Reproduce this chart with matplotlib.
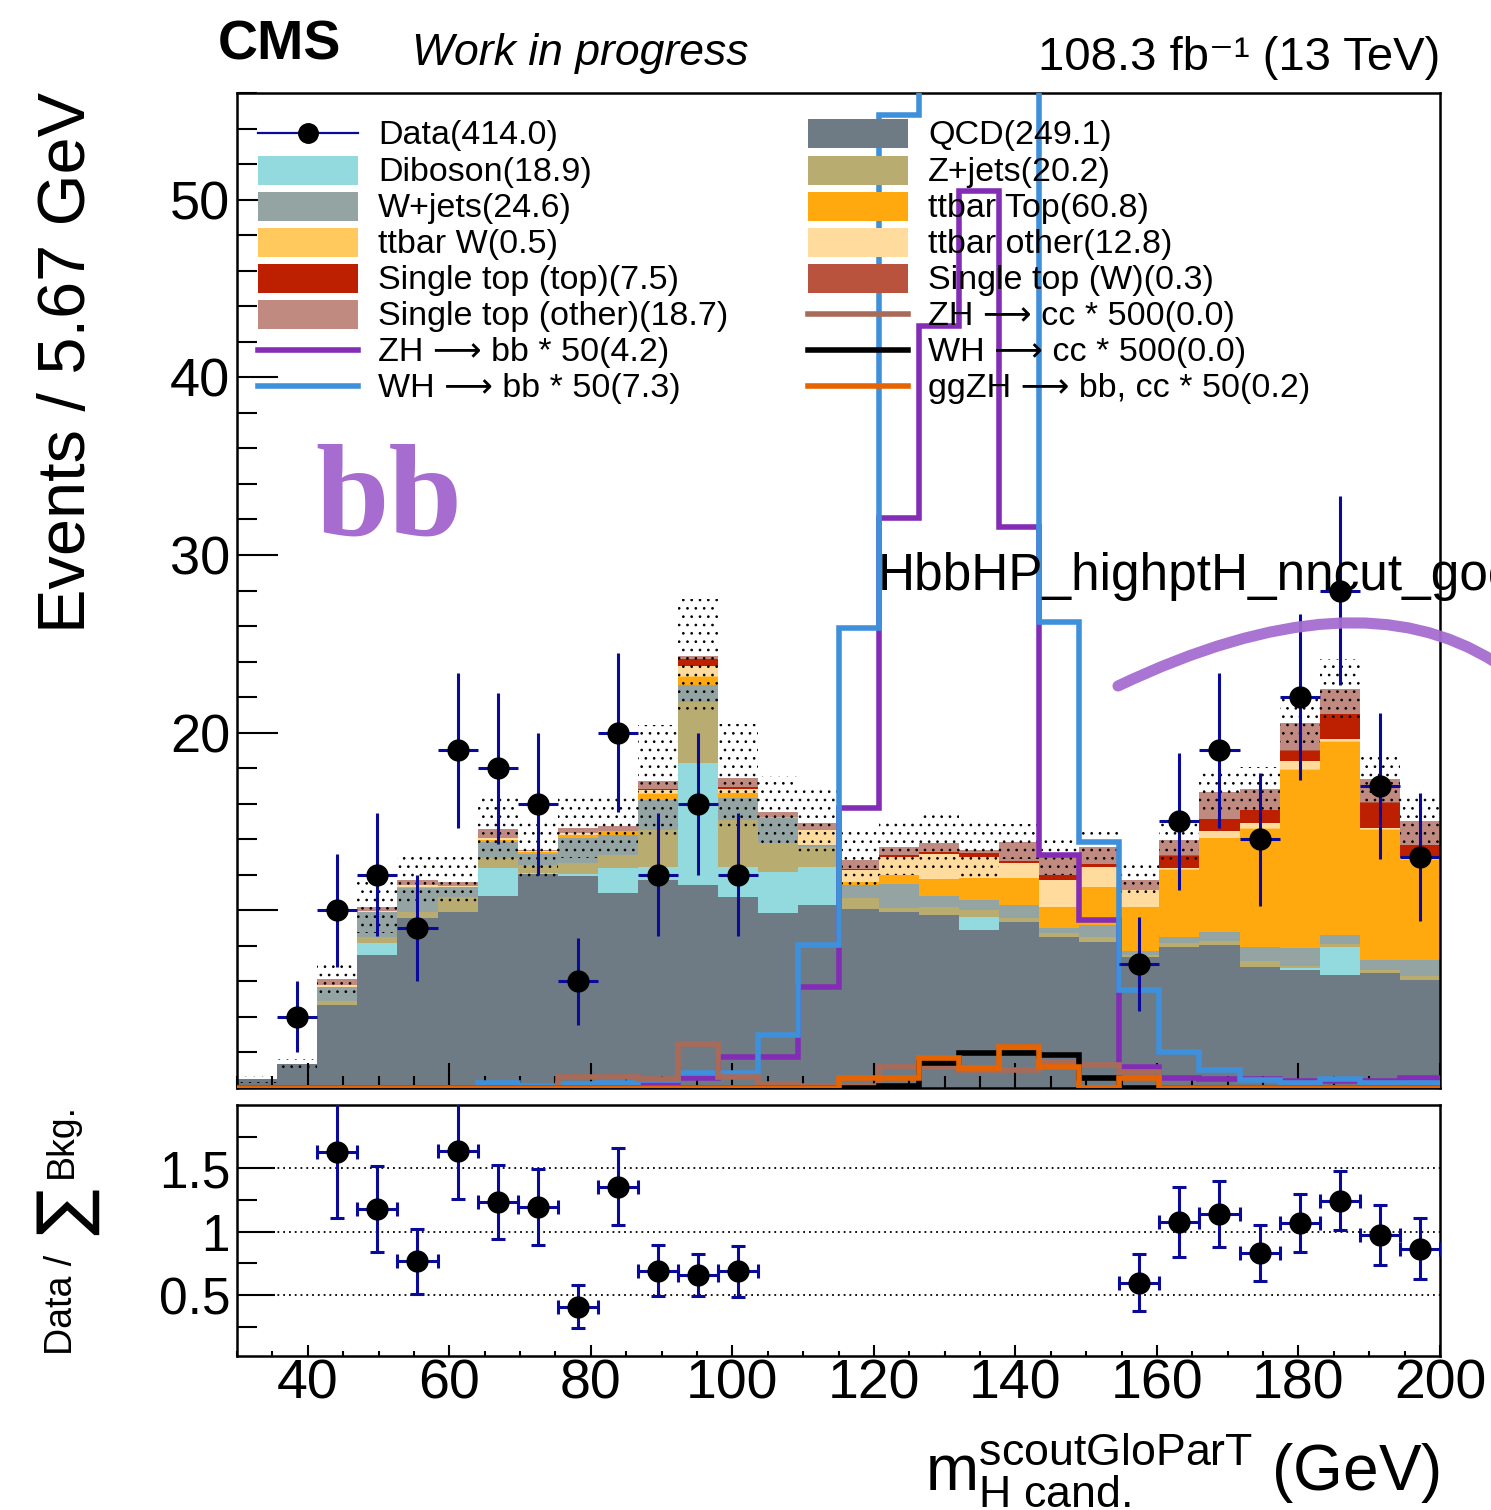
import numpy as np
import matplotlib
matplotlib.use("Agg")
import matplotlib.pyplot as plt
from matplotlib.patches import Rectangle, PathPatch
from matplotlib.lines import Line2D
from matplotlib.path import Path
from matplotlib.ticker import MultipleLocator, FixedLocator

plt.rcParams['font.family'] = ['Liberation Sans', 'DejaVu Sans']
plt.rcParams['mathtext.fontset'] = 'custom'
plt.rcParams['mathtext.rm'] = 'Liberation Sans'
plt.rcParams['mathtext.it'] = 'Liberation Sans:italic'
plt.rcParams['mathtext.bf'] = 'Liberation Sans:bold'
plt.rcParams['hatch.color'] = 'black'
plt.rcParams['hatch.linewidth'] = 0.7

# ---------------- data ----------------
edges = np.linspace(30, 200, 31)
nan = np.nan
data = [0, 4, 10, 12, 9, 19, 18, 16, 6, 20, 12, 16, 12,
        nan, nan, nan, nan, nan, nan, nan, nan, nan,
        7, 15, 19, 14, 22, 28, 17, 13]

qcd = [0.5, 1.35, 4.67, 7.48, 9.55, 9.93, 10.8, 12.04, 11.93, 10.95, 11.7, 11.4, 10.77, 9.83, 10.3,
       10.1, 9.93, 9.74, 8.9, 9.36, 8.52, 8.24, 7.4, 7.96, 8.05, 6.83, 6.64, 6.36, 6.45, 6.08]
diboson = [0, 0, 0, 0.7, 0, 0, 1.56, 0.05, 0.1, 1.41, 0.76, 6.87, 1.69, 2.35, 2.16,
           0, 0, 0, 0.75, 0, 0, 0, 0, 0, 0, 0, 0.1, 1.6, 0, 0]
zjets = [0, 0, 0.23, 0.34, 0.38, 0.84, 0.57, 0.46, 0.63, 0.74, 2.06, 3.47, 2.62, 1.59, 1.12,
         0.58, 0.2, 0.45, 0.35, 0.2, 0.2, 0.26, 0.1, 0.2, 0.25, 0.3, 0.15, 0.15, 0.2, 0.2]
wjets = [0, 0, 0.8, 1.41, 1.31, 0.56, 0.93, 0.6, 1.4, 1.14, 1.68, 0.94, 1.22, 1.41, 0.1,
         0.74, 1.37, 0.6, 0.58, 0.74, 0.3, 0.67, 0.22, 0.32, 0.5, 0.83, 0.97, 0.49, 0.55, 0.92]
tttop = [0, 0, 0, 0, 0.1, 0, 0.1, 0.13, 0.2, 0.2, 0.35, 0.47, 0.3, 0.1, 0,
         0.18, 0.49, 1.0, 1.22, 1.5, 1.18, 2.16, 2.48, 3.79, 5.25, 6.64, 10.04, 10.9, 7.32, 5.63]
ttw = [0, 0, 0, 0, 0, 0, 0, 0, 0, 0, 0.03, 0.03, 0.03, 0, 0,
       0, 0, 0, 0, 0, 0, 0, 0, 0.04, 0.04, 0.04, 0.04, 0.04, 0.04, 0.04]
ttother = [0, 0, 0.1, 0.05, 0.1, 0.05, 0.1, 0.05, 0.1, 0.05, 0.2, 0.55, 0.2, 0, 0.82,
           0.67, 1.01, 1.4, 1.22, 0.85, 1.5, 1.13, 0.95, 0.1, 0.38, 0.3, 0.47, 0.1, 0.1, 0.05]
sttop = [0, 0, 0, 0, 0, 0, 0, 0, 0, 0, 0.05, 0.4, 0.1, 0, 0,
         0.05, 0.1, 0.1, 0.18, 0.15, 0.3, 0.15, 0, 0.66, 0.65, 0.7, 0.56, 1.4, 1.38, 0.75]
stw = [0, 0, 0, 0, 0, 0, 0, 0, 0, 0, 0, 0, 0, 0, 0,
       0, 0, 0, 0, 0, 0, 0, 0, 0.03, 0.03, 0.03, 0.03, 0.03, 0.03, 0.03]
stother = [0, 0, 0.35, 0.22, 0.26, 0.22, 0.54, 0.07, 0.3, 0.25, 0.45, 0.2, 0.53, 0.27, 0.4,
           0.51, 0.48, 0.5, 0.2, 1.07, 1.03, 0.97, 0.55, 0.84, 1.5, 1.17, 1.57, 1.4, 1.33, 1.32]
bkg_err = [0.2, 0.3, 0.95, 1.5, 1.5, 1.4, 1.8, 1.7, 1.7, 1.66, 3.15, 3.2, 3.0, 2.0, 1.9,
           1.6, 1.6, 1.7, 1.5, 1.0, 1.05, 0.9, 0.95, 1.25, 1.1, 1.2, 1.4, 1.7, 1.3, 1.3]

zhbb = [0, 0, 0, 0, 0, 0, 0, 0, 0, 0.1, 0.3, 0.56, 1.77, 1.77, 5.7,
        15.75, 32.1, 42.9, 50.5, 31.6, 13.1, 9.45, 1.2, 0.56, 0.5, 0.5, 0.4, 0.4, 0.4, 0.56]
whbb = [0, 0, 0, 0, 0, 0, 0.3, 0.1, 0.2, 0.3, 0.45, 0.83, 0.83, 2.98, 8.05,
        25.9, 54.75, 80, 90, 70, 26.2, 13.87, 5.5, 2.05, 1.0, 0.45, 0.3, 0.5, 0.3, 0.3]
zhcc = [0, 0, 0, 0, 0, 0, 0, 0, 0.64, 0.64, 0.5, 2.5, 0.6, 0.2, 0.1,
        0.1, 1.2, 1.2, 1.0, 1.0, 1.45, 1.3, 0.9, 0, 0, 0, 0, 0, 0, 0]
whcc = [0, 0, 0, 0, 0, 0, 0, 0, 0, 0, 0, 0, 0, 0, 0,
        0, 0.1, 1.4, 1.95, 1.95, 1.86, 0.56, 0, 0, 0, 0, 0, 0, 0, 0]
ggzh = [0, 0, 0, 0, 0, 0, 0, 0, 0, 0, 0, 0, 0, 0, 0,
        0.56, 0.56, 1.7, 1.1, 2.3, 1.2, 0, 0.56, 0, 0, 0, 0, 0, 0, 0]

stack_names = ["QCD", "Diboson", "Z+jets", "W+jets", "ttbar Top", "ttbar W", "ttbar other",
               "Single top (top)", "Single top (W)", "Single top (other)"]
stack_vals = [qcd, diboson, zjets, wjets, tttop, ttw, ttother, sttop, stw, stother]
stack_cols = ["#6e7a84", "#92dadd", "#b9ac70", "#94a4a2", "#ffa90e", "#ffc95e", "#ffdc9e",
              "#bd1f01", "#b9533e", "#c08a80"]

ARR = "\u27f6"
legend_left = [("Data(414.0)", "data", None), ("Diboson(18.9)", "box", "#92dadd"),
               ("W+jets(24.6)", "box", "#94a4a2"), ("ttbar W(0.5)", "box", "#ffc95e"),
               ("Single top (top)(7.5)", "box", "#bd1f01"),
               ("Single top (other)(18.7)", "box", "#c08a80"),
               (f"ZH {ARR} bb * 50(4.2)", "line", "#832db6"),
               (f"WH {ARR} bb * 50(7.3)", "line", "#3f90da")]
legend_right = [("QCD(249.1)", "box", "#6e7a84"), ("Z+jets(20.2)", "box", "#b9ac70"),
                ("ttbar Top(60.8)", "box", "#ffa90e"), ("ttbar other(12.8)", "box", "#ffdc9e"),
                ("Single top (W)(0.3)", "box", "#b9533e"),
                (f"ZH {ARR} cc * 500(0.0)", "line", "#a96b59"),
                (f"WH {ARR} cc * 500(0.0)", "line", "black"),
                (f"ggZH {ARR} bb, cc * 50(0.2)", "line", "#e76300")]

# ---------------- figure ----------------
W, H = 1491, 1510
fig = plt.figure(figsize=(W / 100, H / 100), dpi=100)

def fx(p):
    return p / W

def fy(p):
    return 1 - p / H

ax = fig.add_axes([fx(237), fy(1088), fx(1440) - fx(237), fy(93) - fy(1088)])
rax = fig.add_axes([fx(237), fy(1356), fx(1440) - fx(237), fy(1105) - fy(1356)])

centers = 0.5 * (edges[1:] + edges[:-1])
halfw = 0.5 * (edges[1] - edges[0])

cum = np.zeros(30)
for vals, col in zip(stack_vals, stack_cols):
    v = np.array(vals, dtype=float)
    ax.stairs(cum + v, edges, baseline=cum.copy(), fill=True, color=col, lw=0, zorder=1)
    cum = cum + v
total = cum
err = np.array(bkg_err)
ax.stairs(total + err, edges, baseline=total - err, fill=True, facecolor='none',
          edgecolor='black', hatch='..', lw=0, zorder=2)

sig_lw = 4.0
for vals, col in [(zhbb, "#832db6"), (whbb, "#3f90da"), (zhcc, "#a96b59"),
                  (whcc, "black"), (ggzh, "#e76300")]:
    ax.stairs(vals, edges, baseline=None, color=col, lw=sig_lw, zorder=3)

d = np.array(data, dtype=float)
m = np.isfinite(d) & (d > 0)
ecol = "#0a0a9a"
ax.errorbar(centers[m], d[m], yerr=np.sqrt(d[m]), xerr=halfw, fmt='o', color='black',
            ms=15, ecolor=ecol, elinewidth=2.2, capsize=0, zorder=5)

ax.set_xlim(30, 200)
ax.set_ylim(0, 56)
ax.yaxis.set_major_locator(FixedLocator([10, 20, 30, 40, 50]))
ax.set_yticklabels(["", "20", "30", "40", "50"])
ax.yaxis.set_minor_locator(MultipleLocator(2))
ax.xaxis.set_major_locator(MultipleLocator(20))
ax.xaxis.set_minor_locator(MultipleLocator(5))
ax.tick_params(axis='x', which='both', labelbottom=False, direction='in', top=False, width=1.5)
ax.tick_params(axis='x', which='major', length=18)
ax.tick_params(axis='x', which='minor', length=9)
ax.tick_params(axis='y', which='both', direction='in', right=False, width=1.5, labelsize=39, pad=5)
ax.tick_params(axis='y', which='major', length=29.5)
ax.tick_params(axis='y', which='minor', length=14.7)
for s in ax.spines.values():
    s.set_linewidth(1.8)

# ratio
ratio = d / total
rerr = np.sqrt(d) / total
rm = m & (ratio < 2)
rax.errorbar(centers[rm], ratio[rm], yerr=rerr[rm], xerr=halfw, fmt='o', color='black',
             ms=15, ecolor=ecol, elinewidth=2.2, capsize=5, capthick=2.2, zorder=5)
for yv in [0.5, 1.0, 1.5]:
    rax.axhline(yv, color='black', ls=(0, (1, 2.2)), lw=1.3, zorder=1)
rax.set_xlim(30, 200)
rax.set_ylim(0.02, 2.0)
rax.yaxis.set_major_locator(FixedLocator([0.5, 1.0, 1.5]))
rax.set_yticklabels(["0.5", "1", "1.5"])
rax.yaxis.set_minor_locator(FixedLocator([0.25, 0.75, 1.25, 1.75]))
rax.xaxis.set_major_locator(MultipleLocator(20))
rax.xaxis.set_minor_locator(MultipleLocator(5))
rax.tick_params(axis='x', which='both', direction='in', top=False, width=1.5, labelsize=40, pad=2)
rax.tick_params(axis='x', which='major', length=8)
rax.tick_params(axis='x', which='minor', length=3.5)
rax.tick_params(axis='y', which='both', direction='in', right=False, width=1.5, labelsize=37, pad=5)
rax.tick_params(axis='y', which='major', length=27)
rax.tick_params(axis='y', which='minor', length=14.5)
for s in rax.spines.values():
    s.set_linewidth(1.8)

# ---------------- texts ----------------
fig.text(fx(218), fy(60), "CMS", fontsize=40, fontweight='bold', va='baseline', ha='left')
fig.text(fx(412), fy(65), "Work in progress", fontsize=32, style='italic', va='baseline', ha='left')
fig.text(fx(1440), fy(70), "108.3 fb\u207b\u00b9 (13 TeV)", fontsize=34,
         va='baseline', ha='right')
fig.text(fx(85), fy(362), "Events / 5.67 GeV", fontsize=48, rotation=90,
         rotation_mode='anchor', ha='center', va='baseline')
fig.text(fx(72), fy(1305), "Data /", fontsize=27, rotation=90, rotation_mode='anchor',
         ha='center', va='baseline')
fig.text(fx(86), fy(1212), "\u2211", fontsize=50, rotation=90, rotation_mode='anchor',
         ha='center', va='baseline', family=['DejaVu Sans'])
fig.text(fx(72), fy(1140), "Bkg.", fontsize=27, rotation=90, rotation_mode='anchor',
         ha='center', va='baseline')
fig.text(fx(1440), fy(1490),
         r"$\mathregular{m^{scoutGloParT}_{H\ cand.}}$ (GeV)", fontsize=46,
         va='baseline', ha='right')
fig.text(fx(878), fy(590), "HbbHP_highptH_nncut_good", fontsize=37, va='baseline', ha='left')
fig.text(fx(315), fy(535), "bb", fontsize=95, family='Liberation Serif', fontweight='bold',
         color='#a66cd0', va='baseline', ha='left')

# hand-drawn arc annotation
p0 = (1118, 686); c1 = (1355, 573); p2 = (1495, 662)
arc = Path([(fx(p0[0]), fy(p0[1])), (fx(c1[0]), fy(c1[1])), (fx(p2[0]), fy(p2[1]))],
           [Path.MOVETO, Path.CURVE3, Path.CURVE3])
fig.add_artist(PathPatch(arc, transform=fig.transFigure, facecolor='none',
                         edgecolor='#a66cd0', lw=8, capstyle='round', alpha=0.95))

# ---------------- legend (manual) ----------------
rows = [133, 170, 206, 242, 278, 314, 350, 386]
def add_entry(xbox, ytxt, label, kind, col):
    if kind == "box":
        fig.add_artist(Rectangle((fx(xbox), fy(ytxt + 14.5)), 100 / W, 29 / H,
                                 transform=fig.transFigure, facecolor=col, edgecolor='none'))
    elif kind == "line":
        fig.add_artist(Line2D([fx(xbox), fx(xbox + 100)], [fy(ytxt), fy(ytxt)],
                              transform=fig.transFigure, color=col, lw=4.0))
    elif kind == "data":
        fig.add_artist(Line2D([fx(xbox), fx(xbox + 100)], [fy(ytxt), fy(ytxt)],
                              transform=fig.transFigure, color=ecol, lw=1.6))
        fig.add_artist(Line2D([fx(xbox + 50)], [fy(ytxt)], transform=fig.transFigure,
                              marker='o', ms=14, color='black', lw=0))
    fig.text(fx(xbox + 120), fy(ytxt + 11), label, fontsize=24.5, va='baseline', ha='left')

for (lab, kind, col), yr in zip(legend_left, rows):
    add_entry(258, yr, lab, kind, col)
for (lab, kind, col), yr in zip(legend_right, rows):
    add_entry(808, yr, lab, kind, col)

fig.savefig("out.png", dpi=100)
